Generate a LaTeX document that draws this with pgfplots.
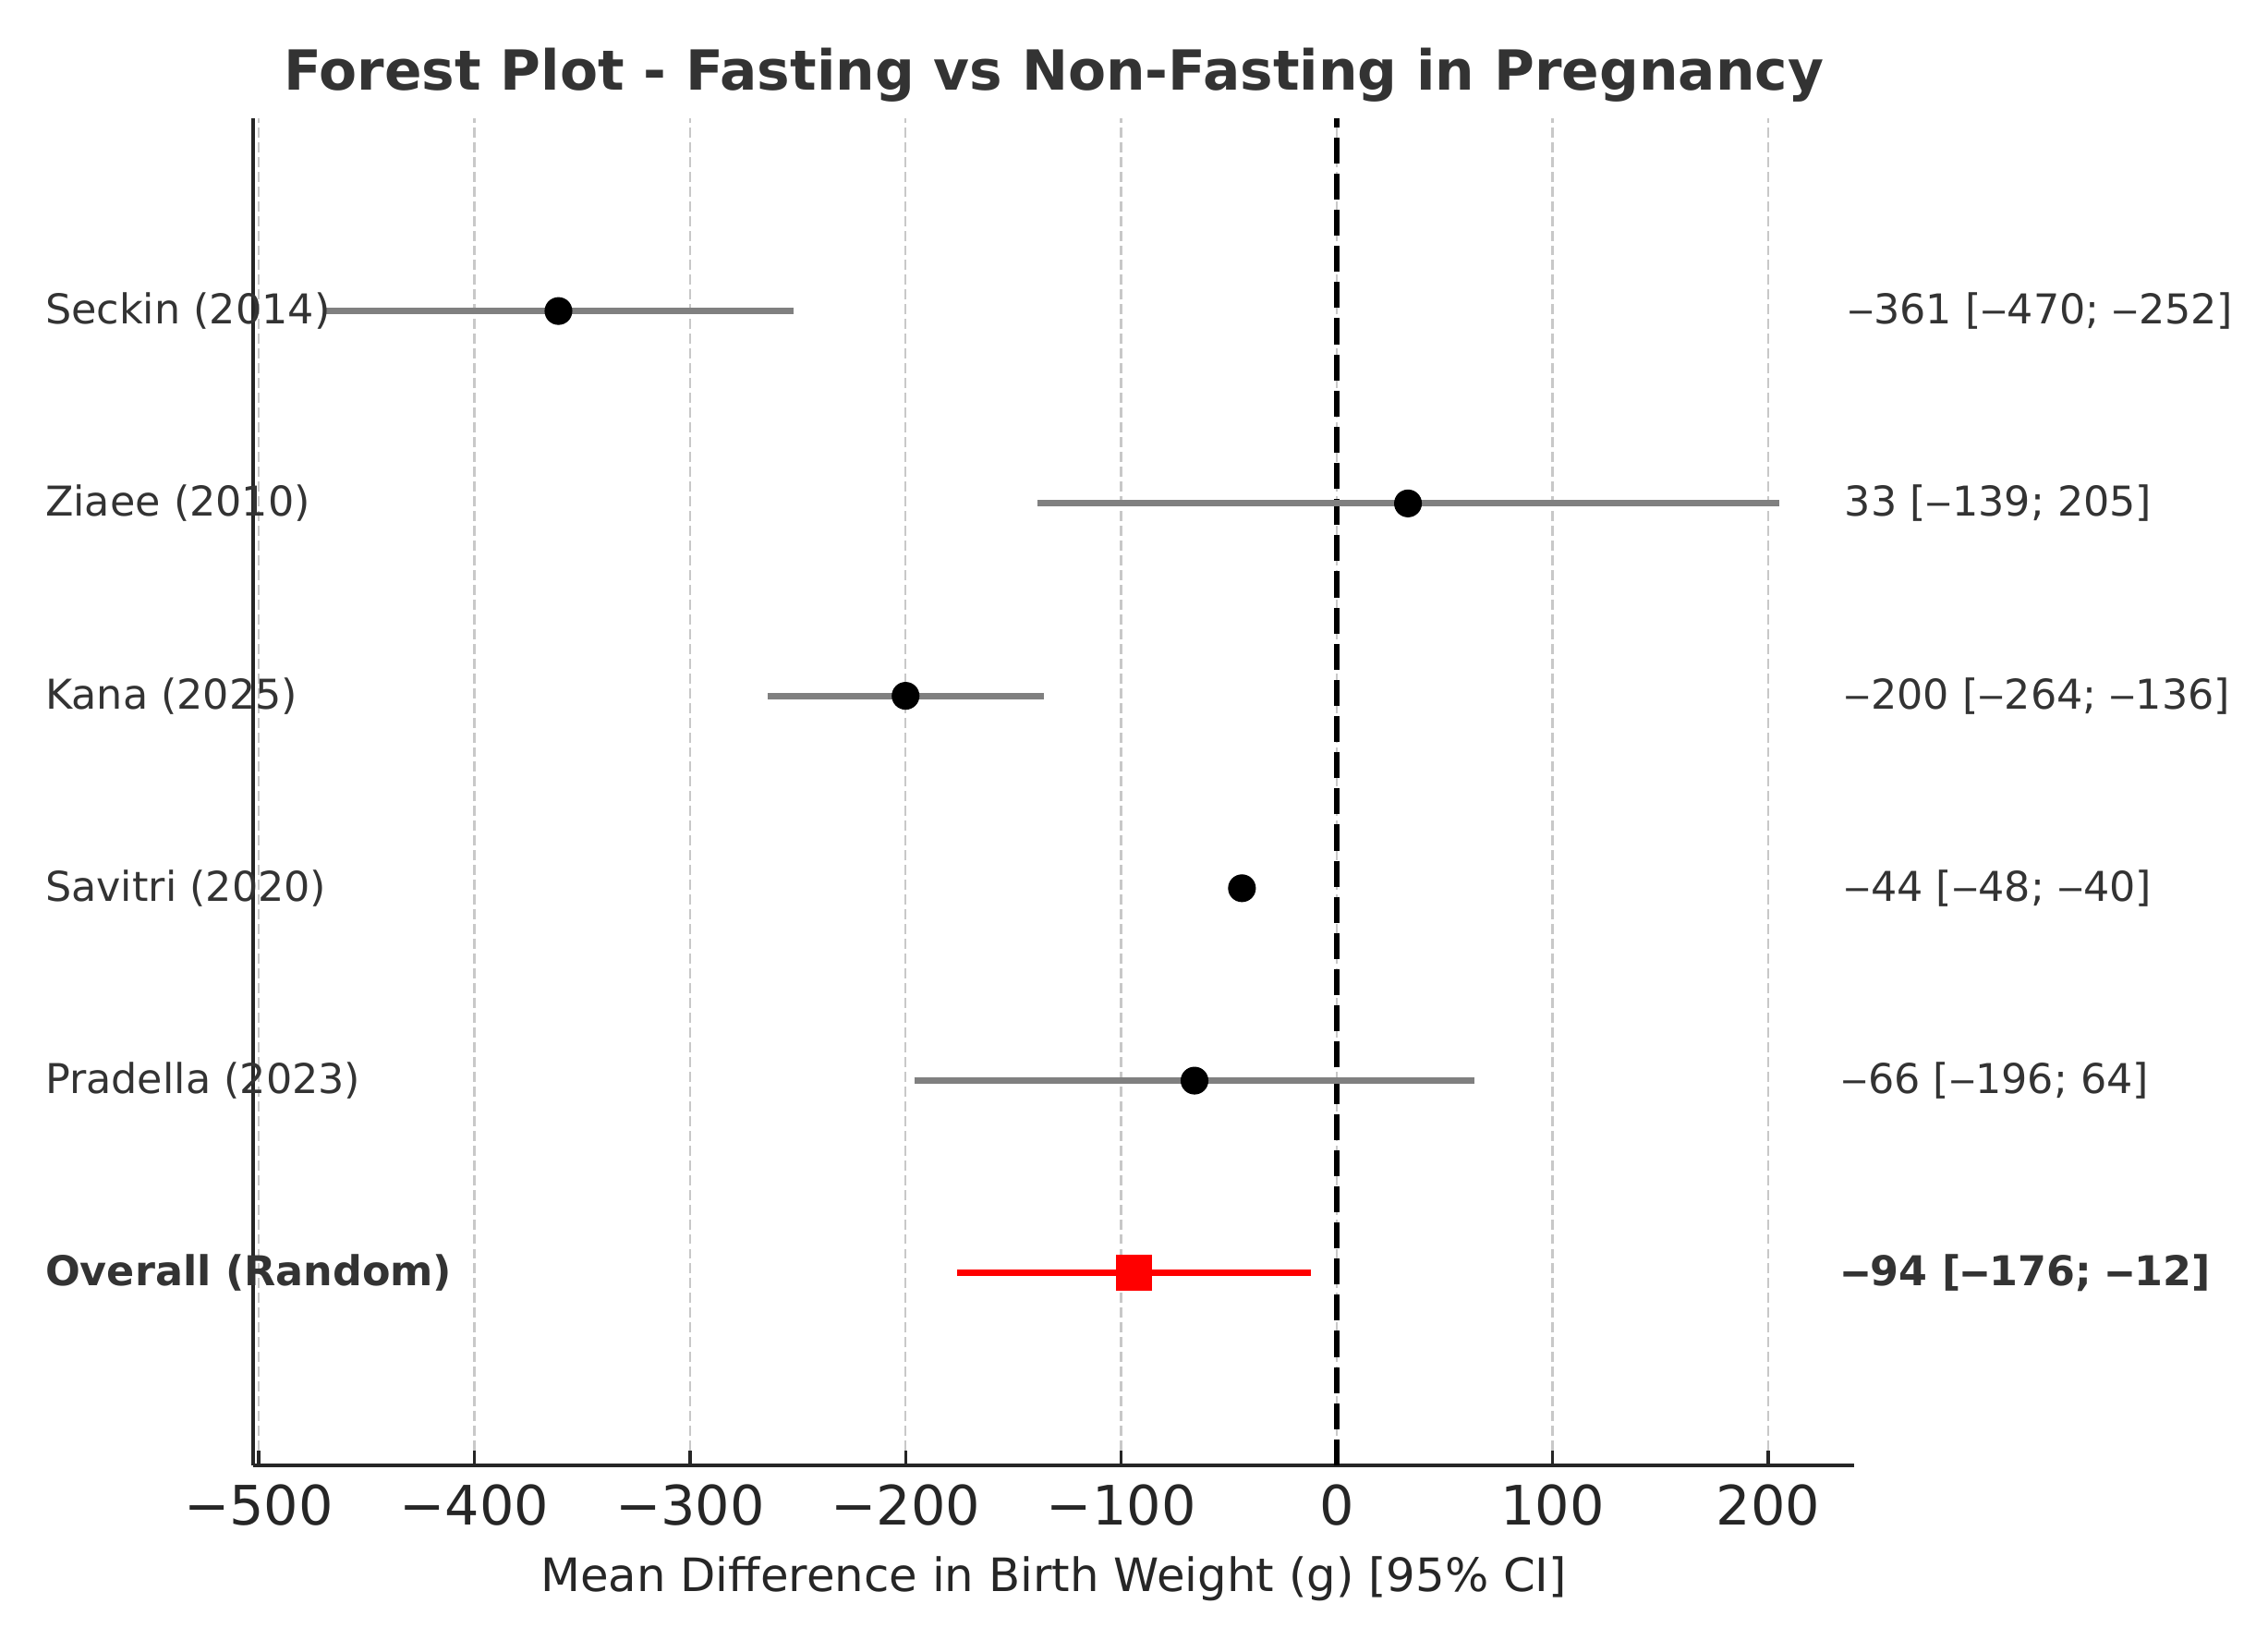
\documentclass[border=0pt]{standalone}
\usepackage{fontspec}
\setmainfont{DejaVu Sans}
\usepackage{pgfplots}
\pgfplotsset{compat=1.18}
\definecolor{txt}{HTML}{333333}
\definecolor{axc}{HTML}{262626}
\definecolor{gridc}{HTML}{C8C8C8}
\definecolor{cig}{HTML}{808080}
\begin{document}
\begin{tikzpicture}
\useasboundingbox (-87.5pt,-56pt) rectangle (696.5pt,506.5pt);
\begin{axis}[
 at={(0,0)}, anchor=south west, scale only axis,
 width=553.5pt, height=465.5pt,
 xmin=-502.6, xmax=240, ymin=-1, ymax=6,
 axis x line*=bottom, axis y line*=left,
 axis line style={axc, line width=1.3pt, -},
 xtick={-500,-400,-300,-200,-100,0,100,200},
 xticklabels={−500,−400,−300,−200,−100,0,100,200},
 ytick=\empty,
 tick align=inside, major tick length=5pt,
 tick style={axc, line width=1.1pt},
 xticklabel style={font=\fontsize{18.8}{20}\selectfont, text=axc, anchor=base, yshift=-20.5pt, inner sep=0pt},
 xmajorgrids, grid style={gridc, line width=0.75pt, dash pattern=on 3.5pt off 1.6pt},
 clip=false,
]
\addplot[black, line width=2pt, dash pattern=on 9pt off 3.5pt] coordinates {(0,-1) (0,6)};
% confidence intervals
\addplot[cig, line width=2.2pt] coordinates {(-470,5) (-252,5)};
\addplot[cig, line width=2.2pt] coordinates {(-139,4) (205,4)};
\addplot[cig, line width=2.2pt] coordinates {(-264,3) (-136,3)};
\addplot[cig, line width=2.2pt] coordinates {(-48,2) (-40,2)};
\addplot[cig, line width=2.2pt] coordinates {(-196,1) (64,1)};
\addplot[red, line width=2.2pt] coordinates {(-176,0) (-12,0)};
% point estimates
\addplot[only marks, mark=*, mark size=4.6pt, black] coordinates {(-361,5) (33,4) (-200,3) (-44,2) (-66,1)};
\addplot[only marks, mark=square*, mark size=6pt, red] coordinates {(-94,0)};
% study labels
\foreach \yy/\lab in {5/Seckin (2014),4/Ziaee (2010),3/Kana (2025),2/Savitri (2020),1/Pradella (2023)}{
 \edef\tmp{\noexpand\node[anchor=base west, font=\noexpand\fontsize{14.2}{16}\noexpand\selectfont, text=txt, inner sep=0pt, xshift=-72pt, yshift=-4.5pt] at (axis cs:-502.6,\yy) {\lab};}\tmp
}
\node[anchor=base west, font=\fontsize{14.2}{16}\selectfont\bfseries, text=txt, inner sep=0pt, xshift=-72pt, yshift=-4.5pt] at (axis cs:-502.6,0) {Overall (Random)};
% right labels
\node[anchor=base west, font=\fontsize{14.2}{16}\selectfont, text=txt, inner sep=0pt, xshift=-2.5pt, yshift=-4.5pt] at (axis cs:240,5) {‒361 [‒470; ‒252]};
\node[anchor=base west, font=\fontsize{14.2}{16}\selectfont, text=txt, inner sep=0pt, xshift=-3.5pt, yshift=-4.5pt] at (axis cs:240,4) {33 [‒139; 205]};
\node[anchor=base west, font=\fontsize{14.2}{16}\selectfont, text=txt, inner sep=0pt, xshift=-3.5pt, yshift=-4.5pt] at (axis cs:240,3) {‒200 [‒264; ‒136]};
\node[anchor=base west, font=\fontsize{14.2}{16}\selectfont, text=txt, inner sep=0pt, xshift=-3.5pt, yshift=-4.5pt] at (axis cs:240,2) {‒44 [‒48; ‒40]};
\node[anchor=base west, font=\fontsize{14.2}{16}\selectfont, text=txt, inner sep=0pt, xshift=-4.5pt, yshift=-4.5pt] at (axis cs:240,1) {‒66 [‒196; 64]};
\node[anchor=base west, font=\fontsize{14.2}{16}\selectfont\bfseries, text=txt, inner sep=0pt, xshift=-4.5pt, yshift=-4.5pt] at (axis cs:240,0) {‒94 [‒176; ‒12]};
% title and axis label
\node[anchor=base, font=\fontsize{19.1}{22}\selectfont\bfseries, text=txt, inner sep=0pt, yshift=10pt] at (rel axis cs:0.5,1) {Forest Plot - Fasting vs Non-Fasting in Pregnancy};
\node[anchor=base, font=\fontsize{15.9}{18}\selectfont, text=axc, inner sep=0pt, yshift=-43.5pt] at (rel axis cs:0.5,0) {Mean Difference in Birth Weight (g) [95\% CI]};
\end{axis}
\end{tikzpicture}
\end{document}
